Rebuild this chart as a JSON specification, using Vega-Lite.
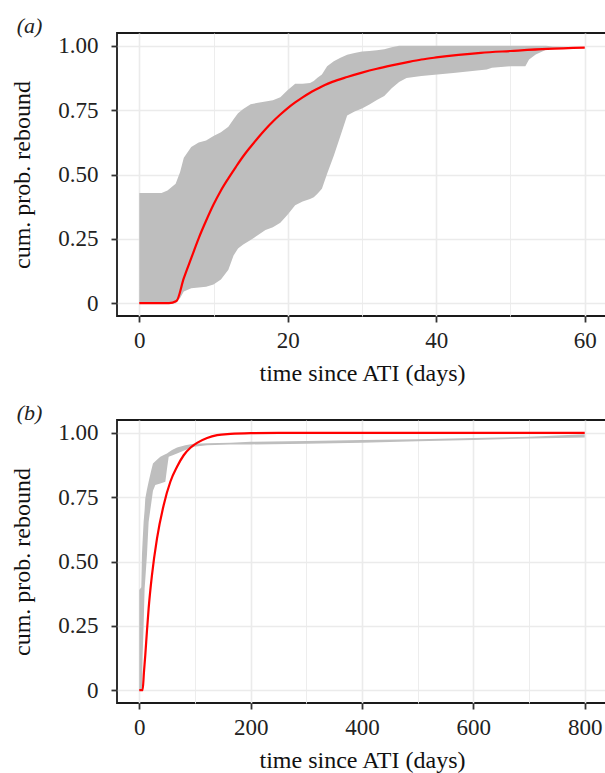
{
  "$schema": "https://vega.github.io/schema/vega-lite/v6.json",
  "padding": {"left": 9, "top": 14, "right": 0, "bottom": 0},
  "spacing": 15,
  "config": {
    "font": "Liberation Serif",
    "view": {"stroke": "#1a1a1a", "strokeWidth": 1.8},
    "axis": {
      "domain": false,
      "gridColor": "#ebebeb",
      "tickColor": "#333333",
      "tickSize": 6,
      "tickWidth": 1.8,
      "labelFont": "Liberation Serif",
      "labelFontSize": 23,
      "labelColor": "#222222",
      "titleFont": "Liberation Serif",
      "titleFontSize": 24,
      "titleFontWeight": "normal",
      "titleColor": "#111111",
      "labelOverlap": false,
      "labelFlush": false,
      "labelPadding": 7
    },
    "axisY": {"labelPadding": 13, "titlePadding": 23},
    "axisX": {"titlePadding": 9},
    "title": {"font": "Liberation Serif", "fontSize": 22, "fontStyle": "italic", "fontWeight": "normal", "color": "#222222", "anchor": "start", "frame": "bounds", "offset": -5, "dx": 6}
  },
  "datasets": {
    "bandA": [
      {"t": 0, "lo": 0, "hi": 0.428},
      {"t": 3, "lo": 0, "hi": 0.428},
      {"t": 3.8, "lo": 0, "hi": 0.438},
      {"t": 4.9, "lo": 0, "hi": 0.464},
      {"t": 5.5, "lo": 0.02, "hi": 0.51},
      {"t": 6, "lo": 0.045, "hi": 0.565},
      {"t": 7, "lo": 0.058, "hi": 0.607},
      {"t": 8, "lo": 0.061, "hi": 0.624},
      {"t": 9, "lo": 0.064, "hi": 0.632},
      {"t": 10, "lo": 0.072, "hi": 0.65},
      {"t": 11, "lo": 0.092, "hi": 0.664},
      {"t": 12, "lo": 0.13, "hi": 0.686},
      {"t": 12.7, "lo": 0.185, "hi": 0.715},
      {"t": 13.3, "lo": 0.212, "hi": 0.738},
      {"t": 14, "lo": 0.228, "hi": 0.755},
      {"t": 15, "lo": 0.245, "hi": 0.773},
      {"t": 16, "lo": 0.265, "hi": 0.779},
      {"t": 17, "lo": 0.284, "hi": 0.784},
      {"t": 18, "lo": 0.295, "hi": 0.789},
      {"t": 19, "lo": 0.312, "hi": 0.8},
      {"t": 20, "lo": 0.345, "hi": 0.828},
      {"t": 21, "lo": 0.38, "hi": 0.853},
      {"t": 22, "lo": 0.395, "hi": 0.853},
      {"t": 23, "lo": 0.405, "hi": 0.856},
      {"t": 23.5, "lo": 0.412, "hi": 0.863},
      {"t": 24, "lo": 0.425, "hi": 0.876},
      {"t": 24.6, "lo": 0.445, "hi": 0.889},
      {"t": 25.3, "lo": 0.503, "hi": 0.921},
      {"t": 26.2, "lo": 0.573, "hi": 0.94},
      {"t": 27.1, "lo": 0.651, "hi": 0.954},
      {"t": 28, "lo": 0.729, "hi": 0.965},
      {"t": 29, "lo": 0.745, "hi": 0.972},
      {"t": 30, "lo": 0.757, "hi": 0.978},
      {"t": 31, "lo": 0.772, "hi": 0.98},
      {"t": 32, "lo": 0.79, "hi": 0.983},
      {"t": 33, "lo": 0.805, "hi": 0.987},
      {"t": 34, "lo": 0.835, "hi": 0.995},
      {"t": 35, "lo": 0.86, "hi": 1.0},
      {"t": 36, "lo": 0.875, "hi": 1.0},
      {"t": 38, "lo": 0.883, "hi": 1.0},
      {"t": 42.3, "lo": 0.895, "hi": 1.0},
      {"t": 46.8, "lo": 0.908, "hi": 1.0},
      {"t": 47.5, "lo": 0.915, "hi": 1.0},
      {"t": 50, "lo": 0.921, "hi": 1.0},
      {"t": 52, "lo": 0.921, "hi": 1.0},
      {"t": 52.5, "lo": 0.947, "hi": 1.0},
      {"t": 53.4, "lo": 0.966, "hi": 1.0},
      {"t": 54.8, "lo": 0.985, "hi": 1.0},
      {"t": 55.7, "lo": 0.992, "hi": 0.998},
      {"t": 60, "lo": 0.993, "hi": 0.995}
    ],
    "redA": [
      {"t": 0, "v": 0},
      {"t": 4, "v": 0},
      {"t": 5, "v": 0.008},
      {"t": 6, "v": 0.097},
      {"t": 7, "v": 0.175},
      {"t": 8, "v": 0.252},
      {"t": 9, "v": 0.32},
      {"t": 10, "v": 0.383},
      {"t": 11, "v": 0.438},
      {"t": 12, "v": 0.485},
      {"t": 13, "v": 0.529},
      {"t": 14, "v": 0.571},
      {"t": 15, "v": 0.608},
      {"t": 16, "v": 0.643},
      {"t": 17, "v": 0.676},
      {"t": 18, "v": 0.706},
      {"t": 19, "v": 0.733},
      {"t": 20, "v": 0.758},
      {"t": 21, "v": 0.78},
      {"t": 22, "v": 0.8},
      {"t": 23, "v": 0.818},
      {"t": 24, "v": 0.833},
      {"t": 25, "v": 0.848},
      {"t": 26, "v": 0.86},
      {"t": 28, "v": 0.879},
      {"t": 30, "v": 0.896},
      {"t": 32, "v": 0.911},
      {"t": 34, "v": 0.924},
      {"t": 36, "v": 0.936},
      {"t": 38, "v": 0.947},
      {"t": 40, "v": 0.955},
      {"t": 43, "v": 0.965},
      {"t": 46, "v": 0.973},
      {"t": 50, "v": 0.98},
      {"t": 55, "v": 0.988},
      {"t": 60, "v": 0.993}
    ],
    "bandB": [
      {"t": 0, "lo": 0, "hi": 0.389},
      {"t": 3.6, "lo": 0, "hi": 0.4},
      {"t": 4.8, "lo": 0, "hi": 0.525},
      {"t": 6, "lo": 0.136, "hi": 0.58},
      {"t": 7.8, "lo": 0.25, "hi": 0.654},
      {"t": 9.6, "lo": 0.395, "hi": 0.7},
      {"t": 10.8, "lo": 0.43, "hi": 0.745},
      {"t": 13.8, "lo": 0.525, "hi": 0.78},
      {"t": 16.8, "lo": 0.654, "hi": 0.81},
      {"t": 21, "lo": 0.719, "hi": 0.85},
      {"t": 24.6, "lo": 0.775, "hi": 0.881},
      {"t": 28.8, "lo": 0.797, "hi": 0.89},
      {"t": 37.8, "lo": 0.803, "hi": 0.907},
      {"t": 46.8, "lo": 0.81, "hi": 0.917},
      {"t": 49.8, "lo": 0.861, "hi": 0.92},
      {"t": 52.8, "lo": 0.907, "hi": 0.925},
      {"t": 58.8, "lo": 0.912, "hi": 0.933},
      {"t": 67.8, "lo": 0.92, "hi": 0.943},
      {"t": 82.8, "lo": 0.933, "hi": 0.952},
      {"t": 97.8, "lo": 0.946, "hi": 0.958},
      {"t": 121.8, "lo": 0.952, "hi": 0.96},
      {"t": 163.8, "lo": 0.955, "hi": 0.962},
      {"t": 200, "lo": 0.955, "hi": 0.965},
      {"t": 300, "lo": 0.958, "hi": 0.968},
      {"t": 400, "lo": 0.962, "hi": 0.972},
      {"t": 500, "lo": 0.967, "hi": 0.975},
      {"t": 600, "lo": 0.972, "hi": 0.98},
      {"t": 700, "lo": 0.978, "hi": 0.985},
      {"t": 800, "lo": 0.982, "hi": 0.995}
    ],
    "redB": [
      {"t": 0, "v": 0},
      {"t": 6, "v": 0},
      {"t": 8.4, "v": 0.07},
      {"t": 10.8, "v": 0.136},
      {"t": 13.8, "v": 0.23},
      {"t": 16.8, "v": 0.317},
      {"t": 22.8, "v": 0.447},
      {"t": 31.8, "v": 0.589},
      {"t": 43.8, "v": 0.719},
      {"t": 55.8, "v": 0.81},
      {"t": 67.8, "v": 0.868},
      {"t": 79.8, "v": 0.913},
      {"t": 91.8, "v": 0.942},
      {"t": 103.8, "v": 0.961},
      {"t": 121.8, "v": 0.98},
      {"t": 139.8, "v": 0.991},
      {"t": 163.8, "v": 0.996},
      {"t": 200, "v": 0.999},
      {"t": 250, "v": 1.0},
      {"t": 800, "v": 1.0}
    ]
  },
  "vconcat": [
    {
      "width": 490,
      "height": 283,
      "title": {"text": "(a)"},
      "layer": [
        {
          "data": {"name": "bandA"},
          "mark": {"type": "area", "color": "#bebebe", "opacity": 1},
          "encoding": {
            "x": {
              "field": "t", "type": "quantitative",
              "scale": {"domain": [-3, 63], "nice": false, "zero": false},
              "axis": {
                "title": "time since ATI (days)",
                "values": [0, 10, 20, 30, 40, 50, 60],
                "labelExpr": "datum.value % 20 === 0 ? datum.label : ''",
                "gridWidth": {"condition": {"test": "datum.value % 20 === 0", "value": 1.6}, "value": 0.9},
                "tickOpacity": {"condition": {"test": "datum.value % 20 === 0", "value": 1}, "value": 0}
              }
            },
            "y": {
              "field": "lo", "type": "quantitative",
              "scale": {"domain": [-0.05, 1.05], "nice": false, "zero": false},
              "axis": {
                "title": "cum. prob. rebound",
                "values": [0, 0.125, 0.25, 0.375, 0.5, 0.625, 0.75, 0.875, 1],
                "labelExpr": "datum.value % 0.25 === 0 ? (datum.value === 0 ? '0' : format(datum.value, '.2f')) : ''",
                "gridWidth": {"condition": {"test": "datum.value % 0.25 === 0", "value": 1.6}, "value": 0.9},
                "tickOpacity": {"condition": {"test": "datum.value % 0.25 === 0", "value": 1}, "value": 0}
              }
            },
            "y2": {"field": "hi"}
          }
        },
        {
          "data": {"name": "redA"},
          "mark": {"type": "line", "color": "#ff0000", "strokeWidth": 2.2, "interpolate": "monotone"},
          "encoding": {
            "x": {"field": "t", "type": "quantitative"},
            "y": {"field": "v", "type": "quantitative"}
          }
        }
      ]
    },
    {
      "width": 490,
      "height": 283,
      "title": {"text": "(b)"},
      "layer": [
        {
          "data": {"name": "bandB"},
          "mark": {"type": "area", "color": "#bebebe", "opacity": 1},
          "encoding": {
            "x": {
              "field": "t", "type": "quantitative",
              "scale": {"domain": [-40, 840], "nice": false, "zero": false},
              "axis": {
                "title": "time since ATI (days)",
                "values": [0, 100, 200, 300, 400, 500, 600, 700, 800],
                "labelExpr": "datum.value % 200 === 0 ? datum.label : ''",
                "gridWidth": {"condition": {"test": "datum.value % 200 === 0", "value": 1.6}, "value": 0.9},
                "tickOpacity": {"condition": {"test": "datum.value % 200 === 0", "value": 1}, "value": 0}
              }
            },
            "y": {
              "field": "lo", "type": "quantitative",
              "scale": {"domain": [-0.05, 1.05], "nice": false, "zero": false},
              "axis": {
                "title": "cum. prob. rebound",
                "values": [0, 0.125, 0.25, 0.375, 0.5, 0.625, 0.75, 0.875, 1],
                "labelExpr": "datum.value % 0.25 === 0 ? (datum.value === 0 ? '0' : format(datum.value, '.2f')) : ''",
                "gridWidth": {"condition": {"test": "datum.value % 0.25 === 0", "value": 1.6}, "value": 0.9},
                "tickOpacity": {"condition": {"test": "datum.value % 0.25 === 0", "value": 1}, "value": 0}
              }
            },
            "y2": {"field": "hi"}
          }
        },
        {
          "data": {"name": "redB"},
          "mark": {"type": "line", "color": "#ff0000", "strokeWidth": 2.2, "interpolate": "monotone"},
          "encoding": {
            "x": {"field": "t", "type": "quantitative"},
            "y": {"field": "v", "type": "quantitative"}
          }
        }
      ]
    }
  ]
}
